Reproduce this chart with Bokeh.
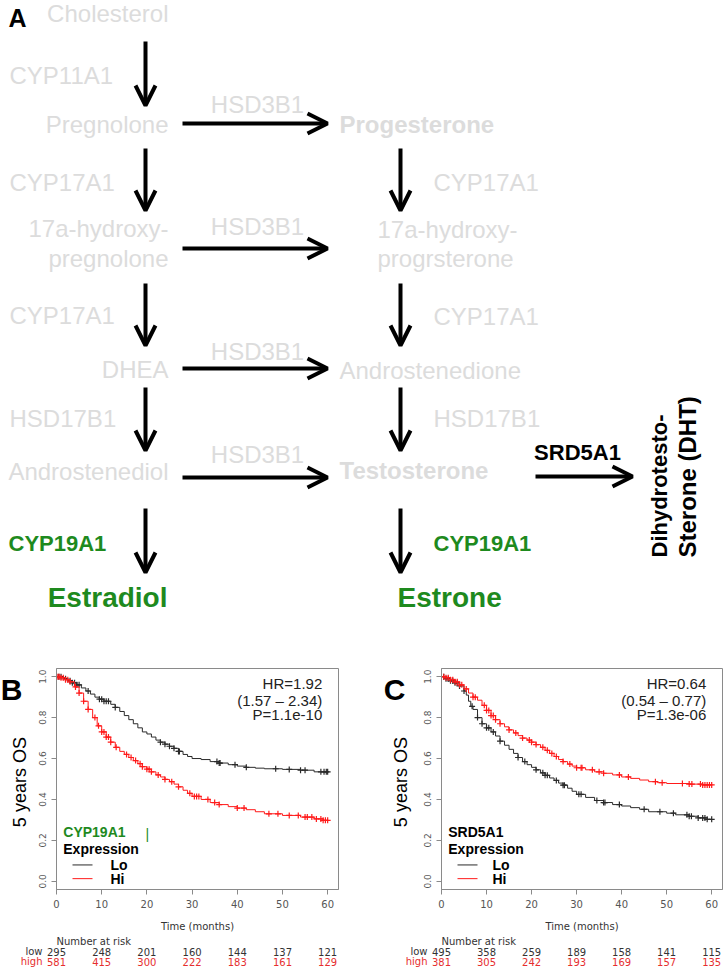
import numpy as np
from bokeh.plotting import figure
from bokeh.models import Range1d, Arrow, OpenHead, Label, FixedTicker, NumeralTickFormatter
from bokeh.layouts import column, row
from bokeh.core.properties import value
from bokeh.embed import file_html
from bokeh.resources import INLINE

# ---------------- data ----------------
# Panel B (CYP19A1) Kaplan-Meier, low expression
b_lo_t = [0, 1.5, 2.5, 3.5, 4.5, 5.5, 6.5, 7.5, 8.5, 9.5, 10.5, 12, 13, 14, 15, 16, 17, 18, 19, 20,
          21, 22, 23, 24, 25, 26, 27, 28, 29, 30, 32, 34, 36, 38, 40, 42, 44, 46, 50, 54, 57]
b_lo_s = [1.0, 0.99, 0.98, 0.97, 0.96, 0.945, 0.93, 0.915, 0.90, 0.89, 0.88, 0.865, 0.85, 0.83, 0.81,
          0.79, 0.77, 0.75, 0.73, 0.72, 0.705, 0.69, 0.68, 0.67, 0.66, 0.65, 0.635, 0.62, 0.61, 0.60,
          0.595, 0.585, 0.578, 0.57, 0.563, 0.557, 0.553, 0.55, 0.547, 0.543, 0.535]
b_lo_cens = [0.5, 1, 2, 3, 3.5, 4, 4.5, 5, 7, 9.5, 10, 10.5, 11, 11.5, 13, 23, 24, 25, 26, 27, 27.2,
             35.5, 36, 36.2, 39.5, 42, 48.5, 51.5, 54, 55, 58.5, 59.2, 59.7, 60]
# Panel B, high expression
b_hi_t = [0, 1, 2, 3, 4, 5, 6, 7, 8, 9, 10, 11, 12, 13, 14, 15, 16, 17, 18, 19, 20, 21, 22, 23, 24,
          25, 26, 27, 28, 29, 30, 32, 34, 36, 38, 40, 42, 44, 46, 50, 54, 57, 59]
b_hi_s = [1.0, 0.995, 0.985, 0.975, 0.95, 0.92, 0.88, 0.84, 0.80, 0.76, 0.73, 0.705, 0.68, 0.655,
          0.635, 0.62, 0.605, 0.59, 0.575, 0.56, 0.548, 0.535, 0.52, 0.51, 0.498, 0.487, 0.475, 0.462,
          0.445, 0.43, 0.415, 0.40, 0.385, 0.375, 0.365, 0.358, 0.35, 0.34, 0.33, 0.322, 0.314, 0.305,
          0.298]
b_hi_cens = [0.3, 0.6, 1, 1.5, 2, 2.5, 3, 4.2, 5, 6, 7, 8.5, 9.3, 10, 10.5, 11, 11.5, 12, 13.2, 15.5,
             16.5, 17.5, 18.5, 19, 20, 20.5, 21, 22.5, 24, 25.5, 27, 29.5, 30.5, 31, 31.5, 33.5, 35,
             36, 40, 41.5, 47, 49, 51.5, 53.5, 55, 55.5, 56.5, 57.5, 58.5, 59, 59.5, 60]

# Panel C (SRD5A1), low expression
c_lo_t = [0, 1, 2, 3, 4, 5, 5.5, 6, 6.5, 7, 8, 9, 10, 11, 12, 13, 14, 15, 16, 17, 18, 19, 20, 21, 22,
          23, 24, 25, 26, 27, 28, 29, 30, 32, 34, 36, 38, 40, 42, 44, 46, 50, 52, 55, 57, 59]
c_lo_s = [1.0, 0.99, 0.98, 0.97, 0.955, 0.93, 0.91, 0.88, 0.855, 0.84, 0.80, 0.77, 0.75, 0.73, 0.71,
          0.685, 0.665, 0.645, 0.625, 0.605, 0.585, 0.57, 0.557, 0.545, 0.53, 0.518, 0.505, 0.493,
          0.48, 0.47, 0.455, 0.44, 0.425, 0.41, 0.395, 0.385, 0.375, 0.368, 0.36, 0.352, 0.34, 0.333,
          0.325, 0.318, 0.31, 0.303]
c_lo_cens = [0.5, 1, 1.5, 2, 2.5, 3, 3.5, 4, 5, 6.8, 8, 9, 10, 10.5, 11.5, 13, 17, 18.5, 21, 22.5, 23,
             23.5, 25.5, 27, 27.3, 30.5, 31, 34.5, 36, 36.3, 39.5, 45, 48.5, 51.5, 54.5, 55, 55.5, 57,
             58, 58.5, 59, 60]
# Panel C, high expression
c_hi_t = [0, 1, 2, 3, 4, 5, 6, 7, 8, 9, 10, 11, 12, 13, 14, 15, 16, 17, 18, 19, 20, 21, 22, 23, 24,
          25, 26, 27, 28, 29, 30, 32, 34, 36, 38, 40, 42, 44, 46, 48, 50, 55, 58]
c_hi_s = [1.0, 0.995, 0.985, 0.975, 0.96, 0.94, 0.92, 0.90, 0.885, 0.86, 0.835, 0.81, 0.79, 0.77,
          0.755, 0.74, 0.725, 0.712, 0.70, 0.69, 0.68, 0.668, 0.655, 0.64, 0.625, 0.61, 0.595, 0.585,
          0.573, 0.563, 0.555, 0.545, 0.535, 0.528, 0.52, 0.51, 0.503, 0.495, 0.487, 0.482, 0.478,
          0.475, 0.471]
c_hi_cens = [0.5, 1, 1.5, 2, 2.5, 3, 3.5, 4, 4.5, 5.5, 7, 7.5, 9.5, 10, 10.5, 11, 11.5, 12, 13, 15,
             16.5, 18, 19.5, 20, 21, 22.5, 23.5, 24.5, 25.5, 27, 28.5, 30, 31, 31.2, 33.5, 35, 36,
             39.5, 41.5, 47.5, 49, 53.5, 55, 55.6, 57.5, 58, 58.5, 59, 59.5, 60]

# numbers at risk
risk_times = [0, 10, 20, 30, 40, 50, 60]
b_risk_low = [295, 248, 201, 160, 144, 137, 121]
b_risk_high = [581, 415, 300, 222, 183, 161, 129]
c_risk_low = [495, 358, 259, 189, 158, 141, 115]
c_risk_high = [381, 305, 242, 193, 169, 157, 135]

b_stats = ["HR=1.92", "(1.57 \u2013 2.34)", "P=1.1e-10"]
c_stats = ["HR=0.64", "(0.54 \u2013 0.77)", "P=1.3e-06"]

groups = ["Lo", "Hi"]
x_ticks = [0, 10, 20, 30, 40, 50, 60]
y_ticks = [0.0, 0.2, 0.4, 0.6, 0.8, 1.0]
X_END = 62.4
FOLLOW_UP = 60

# ---------------- style ----------------
GRAY = "#dcdcdc"
GREEN = "#1e8a1e"
FONT = "Liberation Sans"
RFONT = "DejaVu Sans"
RED = "#ff1a1a"
DARK = "#2a2a2a"
RISK_RED = "#e62e2e"

# ---------------- panel A: pathway ----------------
TOP_H = 650
pa = figure(width=724, height=TOP_H, x_range=Range1d(0, 724), y_range=Range1d(TOP_H, 0),
            output_backend="svg", toolbar_location=None, x_axis_location=None,
            y_axis_location=None, min_border=0, title=None)
pa.outline_line_color = None
pa.grid.visible = False

# (text, x, y, size, color, bold, align, angle)
path_texts = [
    ("A", 8, 17, 25, "black", True, "left", 0),
    ("Cholesterol", 168, 13, 24, GRAY, False, "right", 0),
    ("CYP11A1", 9, 75, 24, GRAY, False, "left", 0),
    ("Pregnolone", 168, 124, 24, GRAY, False, "right", 0),
    ("HSD3B1", 257, 104, 24, GRAY, False, "center", 0),
    ("Progesterone", 339, 124, 24, GRAY, True, "left", 0),
    ("CYP17A1", 9, 182, 24, GRAY, False, "left", 0),
    ("CYP17A1", 433, 182, 24, GRAY, False, "left", 0),
    ("17a-hydroxy-", 168, 228, 24, GRAY, False, "right", 0),
    ("pregnolone", 168, 258, 24, GRAY, False, "right", 0),
    ("HSD3B1", 257, 226, 24, GRAY, False, "center", 0),
    ("17a-hydroxy-", 377, 229, 24, GRAY, False, "left", 0),
    ("progrsterone", 377, 258, 24, GRAY, False, "left", 0),
    ("CYP17A1", 9, 315, 24, GRAY, False, "left", 0),
    ("CYP17A1", 433, 316, 24, GRAY, False, "left", 0),
    ("DHEA", 168, 369, 24, GRAY, False, "right", 0),
    ("HSD3B1", 257, 351, 24, GRAY, False, "center", 0),
    ("Androstenedione", 339, 370, 24, GRAY, False, "left", 0),
    ("HSD17B1", 9, 418, 24, GRAY, False, "left", 0),
    ("HSD17B1", 433, 418, 24, GRAY, False, "left", 0),
    ("Androstenediol", 168, 471, 24, GRAY, False, "right", 0),
    ("HSD3B1", 257, 454, 24, GRAY, False, "center", 0),
    ("Testosterone", 339, 470, 24, GRAY, True, "left", 0),
    ("SRD5A1", 577, 452, 22, "black", True, "center", 0),
    ("Dihydrotesto-", 659, 557, 22, "black", True, "left", np.pi / 2),
    ("Sterone (DHT)", 687, 557, 24, "black", True, "left", np.pi / 2),
    ("CYP19A1", 8, 543, 22, GREEN, True, "left", 0),
    ("CYP19A1", 433, 543, 22, GREEN, True, "left", 0),
    ("Estradiol", 167, 597, 28, GREEN, True, "right", 0),
    ("Estrone", 397, 597, 28, GREEN, True, "left", 0),
]
for (s, x, y, size, col, bold, align, ang) in path_texts:
    pa.text(x=[x], y=[y], text=[s], text_font=value(FONT), text_font_size=f"{size}px",
            text_color=col, text_font_style="bold" if bold else "normal",
            text_align=align, text_baseline="middle", angle=ang)

# arrows (x0, y0, x1, y1)
path_arrows = [
    (145, 41, 145, 105), (145, 148, 145, 210), (145, 283, 145, 345), (145, 387, 145, 450),
    (145, 508, 145, 572),
    (400, 148, 400, 210), (400, 283, 400, 345), (400, 387, 400, 450), (400, 508, 400, 572),
    (182, 123, 327, 123), (182, 248, 327, 248), (182, 368, 327, 368), (182, 477, 327, 477),
    (535, 476, 632, 476),
]
for (x0, y0, x1, y1) in path_arrows:
    pa.add_layout(Arrow(end=OpenHead(size=20, line_width=4, line_color="black"),
                        x_start=x0, y_start=y0, x_end=x1, y_end=y1,
                        line_width=4, line_color="black"))


# ---------------- KM panels ----------------
KM_H = 284          # height of the KM figure (page y 650..934)
RISK_H = 33         # number-at-risk strip (page y 934..967)
FRAME_TOP = 18      # frame from 668 to 893
FRAME_H = 225


def step_at(t, s, c):
    t = np.asarray(t, float)
    s = np.asarray(s, float)
    idx = np.searchsorted(t, np.asarray(c, float), side="right") - 1
    return s[idx]


def step_path(t, s):
    # vertices of a right-continuous survival step function, continued to end of follow-up
    t = list(t) + [FOLLOW_UP]
    s = list(s) + [s[-1]]
    xs = np.repeat(t, 2)[1:]
    ys = np.repeat(s, 2)[:-1]
    return xs, ys


def blank(width, height, x0, y0):
    f = figure(width=width, height=height, x_range=Range1d(x0, x0 + width),
               y_range=Range1d(y0 + height, y0), output_backend="svg", toolbar_location=None,
               x_axis_location=None, y_axis_location=None, min_border=0, title=None)
    f.outline_line_color = None
    f.grid.visible = False
    return f


def km_panel(panel_x, panel_w, left_w, frame_left, frame_right, letter, letter_x, ylab_x,
             gene, gene_col, lo, hi, stats, risk_lo, risk_hi, leg_label_x, gene_mark):
    # left strip: panel letter + y title
    left = blank(left_w, KM_H, panel_x, 650)
    left.text(x=[letter_x], y=[677], text=[letter], text_font=value(FONT),
              text_font_size="30px", text_font_style="bold", text_align="center",
              text_baseline="middle")
    left.text(x=[ylab_x], y=[796], text=["5 years OS"], text_font=value(FONT),
              text_font_size="18px", text_align="center", text_baseline="middle",
              angle=np.pi / 2)

    km_x = panel_x + left_w
    km_w = panel_w - left_w
    bl = frame_left - km_x
    br = panel_x + panel_w - frame_right
    scale = (frame_right - frame_left) / X_END
    p = figure(width=km_w, height=KM_H, x_range=Range1d(0, X_END),
               y_range=Range1d(-0.04, 1.04), output_backend="svg", toolbar_location=None,
               title=None, min_border_top=FRAME_TOP, min_border_bottom=KM_H - FRAME_TOP - FRAME_H,
               min_border_left=bl, min_border_right=br)
    p.grid.visible = False
    p.outline_line_color = "#8a8a8a"
    p.outline_line_width = 1

    for ax in (p.xaxis[0], p.yaxis[0]):
        ax.axis_line_color = "#8a8a8a"
        ax.major_tick_line_color = "#8a8a8a"
        ax.major_tick_out = 5
        ax.major_tick_in = 0
        ax.minor_tick_line_color = None
        ax.major_label_text_font = RFONT
        ax.major_label_text_color = "#555555"
    p.xaxis.ticker = FixedTicker(ticks=x_ticks)
    p.xaxis.major_label_text_font_size = "10px"
    p.xaxis.major_label_standoff = 5
    p.xaxis.axis_label = "Time (months)"
    p.xaxis.axis_label_text_font = RFONT
    p.xaxis.axis_label_text_font_size = "10px"
    p.xaxis.axis_label_text_font_style = "normal"
    p.xaxis.axis_label_text_color = "#333333"
    p.xaxis.axis_label_standoff = 10
    p.yaxis.ticker = FixedTicker(ticks=y_ticks)
    p.yaxis.formatter = NumeralTickFormatter(format="0.0")
    p.yaxis.major_label_orientation = "vertical"
    p.yaxis.major_label_text_font_size = "9px"
    p.yaxis.major_label_standoff = 5

    colors = [DARK, RED]
    for (t, s, c), col in zip((lo, hi), colors):
        xs, ys = step_path(t, s)
        p.line(xs, ys, line_color=col, line_width=1)
        p.scatter(c, step_at(t, s, c), marker="cross", size=6, line_color=col, line_width=1.2)

    for i, line in enumerate(stats):
        p.add_layout(Label(x=58.8, y=[0.968, 0.886, 0.814][i], text=line, text_align="right",
                           text_baseline="middle", text_font=FONT, text_font_size="15px",
                           text_color="#222222"))

    # legend block (gene name, title, line keys)
    p.add_layout(Label(x=1.5, y=0.243, text=gene, text_font=FONT, text_font_size="14px",
                       text_font_style="bold", text_color=gene_col, text_baseline="middle"))
    if gene_mark:
        p.add_layout(Label(x=20.1, y=0.233, text="|", text_font=FONT, text_font_size="14px",
                           text_color=GREEN, text_baseline="middle", text_align="center"))
    p.add_layout(Label(x=1.5, y=0.157, text="Expression", text_font=FONT, text_font_size="14px",
                       text_font_style="bold", text_color="black", text_baseline="middle"))
    key_y = [0.080, 0.013]
    key_x0 = 16 / scale
    key_x1 = 36 / scale
    p.segment(x0=[key_x0] * 2, y0=key_y, x1=[key_x1] * 2, y1=key_y, line_color=colors,
              line_width=1)
    for g, yy in zip(groups, key_y):
        p.add_layout(Label(x=leg_label_x, y=yy, text=g, text_font=FONT, text_font_size="14px",
                           text_font_style="bold", text_color="black", text_baseline="middle"))

    # number-at-risk strip, same horizontal scale as the KM frame
    r = figure(width=panel_w, height=RISK_H,
               x_range=Range1d(-(frame_left - panel_x) / scale,
                               (panel_x + panel_w - frame_left) / scale),
               y_range=Range1d(RISK_H, 0), output_backend="svg", toolbar_location=None,
               x_axis_location=None, y_axis_location=None, min_border=0, title=None)
    r.outline_line_color = None
    r.grid.visible = False
    r.text(x=[0], y=[7], text=["Number at risk"], text_font=value(RFONT), text_font_size="10px",
           text_color="#333333", text_baseline="middle", text_align="left")
    for (vals, name, col, yy) in ((risk_lo, "low", "#333333", 17), (risk_hi, "high", RISK_RED, 27)):
        r.text(x=risk_times, y=[yy] * len(risk_times), text=[str(v) for v in vals],
               text_font=value(RFONT), text_font_size="10px", text_color=col,
               text_align="center", text_baseline="middle")
        r.text(x=[-3.1], y=[yy], text=[name], text_font=value(RFONT), text_font_size="10px",
               text_color=col, text_align="right", text_baseline="middle")

    return column(row(left, p), r)


panel_b = km_panel(0, 362, 32, 56, 338, "B", 11, 19, "CYP19A1", GREEN,
                   (b_lo_t, b_lo_s, b_lo_cens), (b_hi_t, b_hi_s, b_hi_cens), b_stats,
                   b_risk_low, b_risk_high, leg_label_x=11.95, gene_mark=True)
panel_c = km_panel(362, 362, 53, 441, 722, "C", 394, 400, "SRD5A1", "black",
                   (c_lo_t, c_lo_s, c_lo_cens), (c_hi_t, c_hi_s, c_hi_cens), c_stats,
                   c_risk_low, c_risk_high, leg_label_x=11.3, gene_mark=False)

layout = column(pa, row(panel_b, panel_c))
open("out.html", "w").write(file_html(layout, INLINE))
